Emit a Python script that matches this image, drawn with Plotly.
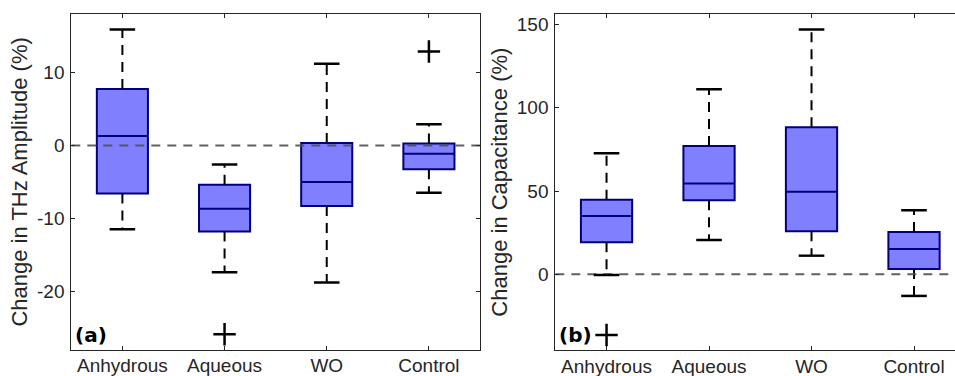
import plotly.graph_objects as go

categories = ["Anhydrous", "Aqueous", "WO", "Control"]
positions = [1, 2, 3, 4]

# Panel (a): Change in THz Amplitude (%)
a_lower = [-11.5, -17.4, -18.8, -6.5]
a_q1 = [-6.6, -11.8, -8.3, -3.25]
a_median = [1.3, -8.7, -5.0, -1.15]
a_q3 = [7.75, -5.4, 0.35, 0.27]
a_upper = [15.9, -2.6, 11.2, 2.9]
a_out_x = [2, 4]
a_out_y = [-25.9, 12.9]

# Panel (b): Change in Capacitance (%)
b_lower = [-0.4, 20.6, 11.2, -13.0]
b_q1 = [19.2, 44.5, 25.8, 3.2]
b_median = [35.0, 54.5, 49.6, 15.2]
b_q3 = [44.8, 77.1, 88.3, 25.4]
b_upper = [72.7, 111.2, 147.0, 38.5]
b_out_x = [1]
b_out_y = [-36.5]

a_yticks = [-20, -10, 0, 10]
a_yticklabels = ["-20", "-10", "0", "10"]
b_yticks = [0, 50, 100, 150]
b_yticklabels = ["0", "50", "100", "150"]

FILL = "#8080FF"
EDGE = "#00007A"
FONT = "Arial"
TXT = "#262626"
BOX_W = 0.5
CAP_W = 0.25

fig = go.Figure()


def add_panel(xa, ya, lower, q1, med, q3, upper, ox, oy, xmax):
    # whiskers (dashed)
    wx, wy = [], []
    for p, lo, a, b, hi in zip(positions, lower, q1, q3, upper):
        wx += [p, p, None, p, p, None]
        wy += [b, hi, None, a, lo, None]
    fig.add_trace(go.Scatter(x=wx, y=wy, mode="lines",
                             line=dict(color="black", width=2, dash="10px,7px"),
                             xaxis=xa, yaxis=ya, hoverinfo="skip", showlegend=False))
    # boxes
    fig.add_trace(go.Box(x=positions, q1=q1, median=med, q3=q3,
                         lowerfence=q1, upperfence=q3, width=BOX_W,
                         fillcolor=FILL, line=dict(color=EDGE, width=2),
                         whiskerwidth=0, boxpoints=False,
                         xaxis=xa, yaxis=ya, hoverinfo="skip", showlegend=False))
    # zero reference line (gray dashed, on top)
    fig.add_trace(go.Scatter(x=[0.5, xmax], y=[0, 0], mode="lines",
                             line=dict(color="rgba(80,80,80,0.9)", width=2, dash="9px,7px"),
                             xaxis=xa, yaxis=ya, hoverinfo="skip", showlegend=False))
    # caps
    cx, cy = [], []
    for p, lo, hi in zip(positions, lower, upper):
        cx += [p - CAP_W / 2, p + CAP_W / 2, None, p - CAP_W / 2, p + CAP_W / 2, None]
        cy += [hi, hi, None, lo, lo, None]
    fig.add_trace(go.Scatter(x=cx, y=cy, mode="lines",
                             line=dict(color="black", width=2.5),
                             xaxis=xa, yaxis=ya, hoverinfo="skip", showlegend=False))
    # outliers
    fig.add_trace(go.Scatter(x=ox, y=oy, mode="markers",
                             marker=dict(symbol="cross-thin", size=16,
                                         line=dict(color="black", width=2.5)),
                             xaxis=xa, yaxis=ya, hoverinfo="skip", showlegend=False))


add_panel("x", "y", a_lower, a_q1, a_median, a_q3, a_upper, a_out_x, a_out_y, 4.5)
add_panel("x2", "y2", b_lower, b_q1, b_median, b_q3, b_upper, b_out_x, b_out_y, 4.4)

axis_common = dict(showgrid=False, zeroline=False, showline=True, linecolor=TXT,
                   linewidth=1, ticks="inside", ticklen=4, tickcolor=TXT,
                   automargin=False,
                   tickfont=dict(family=FONT, size=19, color=TXT))

fig.update_layout(
    width=955, height=376,
    margin=dict(l=0, r=0, t=0, b=0),
    paper_bgcolor="white", plot_bgcolor="white",
    showlegend=False,
    xaxis=dict(domain=[71.3 / 955, 480 / 955], range=[0.5, 4.5],
               tickvals=positions, ticktext=categories, mirror="ticks",
               anchor="y", ticklabelstandoff=-1, **axis_common),
    yaxis=dict(domain=[1 - 349.5 / 376, 1 - 14.3 / 376], range=[-28, 18],
               tickvals=a_yticks, ticktext=a_yticklabels, mirror="ticks", anchor="x",
               ticklabelstandoff=2,
               title=dict(text="Change in THz Amplitude (%)",
                          font=dict(family=FONT, size=22, color=TXT), standoff=3),
               **axis_common),
    xaxis2=dict(domain=[555.3 / 955, 1.0], range=[0.5, 4.4],
                tickvals=positions, ticktext=categories, mirror="ticks",
                anchor="y2", ticklabelstandoff=-1, **axis_common),
    yaxis2=dict(domain=[1 - 350 / 376, 1 - 14.3 / 376], range=[-45.5, 156.2],
                tickvals=b_yticks, ticktext=b_yticklabels, mirror=False, anchor="x2",
                ticklabelstandoff=2,
                title=dict(text="Change in Capacitance (%)",
                           font=dict(family=FONT, size=22, color=TXT), standoff=3),
                **axis_common),
    annotations=[
        dict(text="<b>(a)</b>", x=0.5, y=-28, xref="x", yref="y",
             xanchor="left", yanchor="bottom", xshift=2, yshift=1, showarrow=False,
             font=dict(family="DejaVu Sans", size=20, color="black")),
        dict(text="<b>(b)</b>", x=0.5, y=-45.5, xref="x2", yref="y2",
             xanchor="left", yanchor="bottom", xshift=2, yshift=1, showarrow=False,
             font=dict(family="DejaVu Sans", size=20, color="black")),
    ],
)

fig.write_html("out.html")
